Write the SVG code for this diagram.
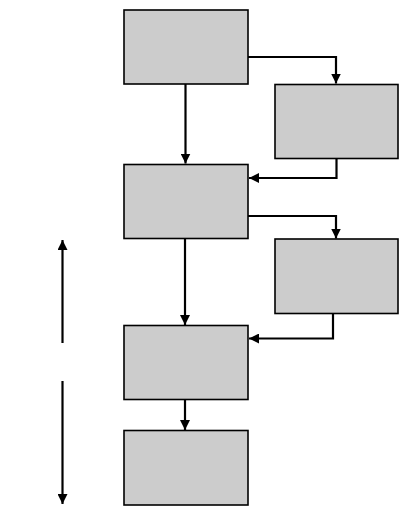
<svg xmlns="http://www.w3.org/2000/svg" width="414" height="514" viewBox="0 0 414 514">
<defs>
<style>
.box{fill:#cccccc;stroke:#000;stroke-width:1.6}
.con{fill:none;stroke:#000;stroke-width:2.2}
</style>
<marker id="ah" viewBox="0 0 10 10" refX="10" refY="5" markerWidth="10" markerHeight="10" markerUnits="userSpaceOnUse" orient="auto">
<path d="M0,0 L10,5 L0,10 z" fill="#000"/>
</marker>
</defs>
<rect width="414" height="514" fill="#fff"/>
<g id="nodeA"><rect class="box" x="124" y="10" width="124" height="74"/></g>
<g id="nodeB"><rect class="box" x="275" y="84.5" width="123" height="74"/></g>
<g id="nodeC"><rect class="box" x="124" y="164.5" width="124" height="74"/></g>
<g id="nodeD"><rect class="box" x="275" y="239" width="123" height="74.5"/></g>
<g id="nodeE"><rect class="box" x="124" y="325.5" width="124" height="74"/></g>
<g id="nodeF"><rect class="box" x="124" y="430.5" width="124" height="74.5"/></g>
<g id="connectors">
<path class="con" d="M248,57 H336 V83.5" marker-end="url(#ah)"/>
<path class="con" d="M185.5,84 V163.5" marker-end="url(#ah)"/>
<path class="con" d="M336.5,159 V178 H249" marker-end="url(#ah)"/>
<path class="con" d="M248,216 H336 V238.5" marker-end="url(#ah)"/>
<path class="con" d="M185,238.5 V325" marker-end="url(#ah)"/>
<path class="con" d="M333,313.5 V338.5 H249" marker-end="url(#ah)"/>
<path class="con" d="M185,399.5 V430" marker-end="url(#ah)"/>
<path class="con" d="M62.5,343 V240" marker-end="url(#ah)"/>
<path class="con" d="M62.5,381 V504" marker-end="url(#ah)"/>
</g>
</svg>
